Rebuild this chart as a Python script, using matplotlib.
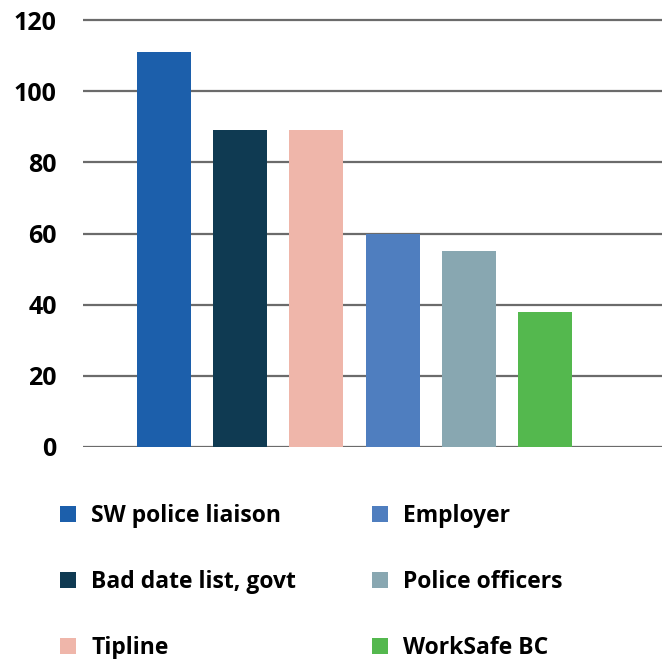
import matplotlib
matplotlib.use('Agg')
import matplotlib.pyplot as plt
from matplotlib.patches import Patch

plt.rcParams['font.family'] = ['Open Sans', 'DejaVu Sans']
plt.rcParams['font.weight'] = 'bold'

# Data
categories = ['SW police liaison', 'Bad date list, govt', 'Tipline',
              'Employer', 'Police officers', 'WorkSafe BC']
values = [111, 89, 89, 60, 55, 38]
colors = ['#1c5fab', '#0f3a52', '#efb6aa', '#4f7ebf', '#88a7b1', '#54b84e']
yticks = [0, 20, 40, 60, 80, 100, 120]

fig = plt.figure(figsize=(6.62, 6.59), dpi=100)
ax = fig.add_axes([0.1254, 0.3217, 0.8746, 0.6504])

x = list(range(len(categories)))
ax.bar(x, values, width=0.71, color=colors, zorder=3)

ax.set_xlim(-1.063, 6.535)
ax.set_ylim(0, 120.5)
ax.set_yticks(yticks)
ax.set_xticks([])
ax.yaxis.grid(True, color='#6b6b6b', linewidth=1.6, zorder=0)
ax.set_axisbelow(True)
for s in ax.spines.values():
    s.set_visible(False)
ax.tick_params(axis='y', length=0, pad=19, labelsize=18)
for lbl in ax.get_yticklabels():
    lbl.set_fontweight('bold')

# Legend
handles = [Patch(facecolor=c, edgecolor='none') for c in colors]
fig.legend(handles, categories, loc='upper left', bbox_to_anchor=(0.06, 0.267),
           ncol=2, frameon=False, handlelength=0.7, handleheight=0.7,
           handletextpad=0.65, labelspacing=1.85, columnspacing=3.3,
           prop={'weight': 'bold', 'size': 16.5})

plt.savefig('out.png', dpi=100)
plt.close()
